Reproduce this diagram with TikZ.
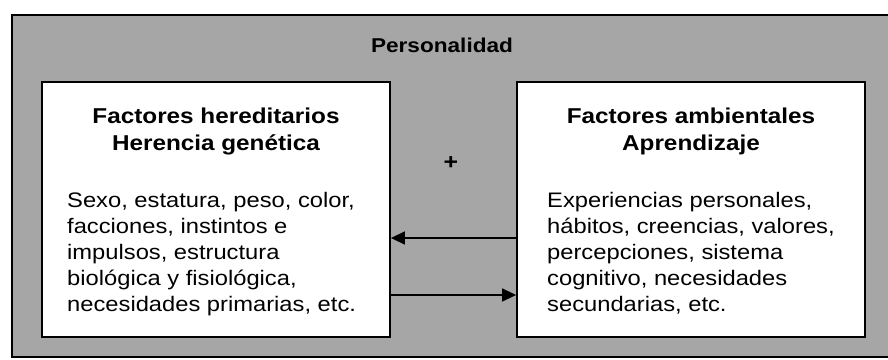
\documentclass[tikz,border=0pt]{standalone}
\usepackage{fontspec}
\setmainfont[FakeStretch=1.13]{Liberation Sans}
\usepackage{xcolor}
\usepackage{tikz}
\usetikzlibrary{positioning, arrows.meta}

\begin{document}
\begin{tikzpicture}[x=1pt, y=-1pt,
    factbox/.style={draw, line width=1.8pt, fill=white, minimum width=348pt, minimum height=255pt, inner sep=0pt},
    boxtitle/.style={font=\fontsize{21.5}{27}\selectfont\bfseries, anchor=base, inner sep=0pt},
    boxline/.style={font=\fontsize{21}{26}\selectfont, anchor=base west, inner sep=0pt},
    flow/.style={line width=1.5pt, -{Triangle[length=14pt, width=13pt]}}]
        \useasboundingbox (0,0) rectangle (888,359);
        \clip (0,0) rectangle (888,359);

        % Shaded frame
        \fill[black!35] (12,15) rectangle (900,357);
        \draw[line width=2pt] (12,15) rectangle (900,357);
        \node[font=\fontsize{20}{24}\selectfont\bfseries, anchor=base, inner sep=0pt] (persona) at (442,52) {Personalidad};
        \node[font=\fontsize{22}{22}\selectfont\bfseries, inner sep=0pt] (mark) at (451,163) {+};

        % Boxes
        \node[factbox] (hered) at (216,209.5) {};
        \node[factbox] (ambient) at (691,209.5) {};

        % Titles
        \node[boxtitle] (hertitle) at (216,123) {Factores hereditarios};
        \node[boxtitle] (hersub) at (216,150) {Herencia genética};
        \node[boxtitle] (ambtitle) at (691,123) {Factores ambientales};
        \node[boxtitle] (ambsub) at (691,150) {Aprendizaje};

        % Body texts
        \foreach \txt [count=\i] in {{Sexo, estatura, peso, color,}, {facciones, instintos e}, {impulsos, estructura}, {biológica y fisiológica,}, {necesidades primarias, etc.}} {
          \node[boxline] (her\i) at (67,{181+26*\i}) {\txt};
        }
        \foreach \txt [count=\i] in {{Experiencias personales,}, {hábitos, creencias, valores,}, {percepciones, sistema}, {cognitivo, necesidades}, {secundarias, etc.}} {
          \node[boxline] (amb\i) at (547,{181+26*\i}) {\txt};
        }

        % Arrows
        \coordinate (upper) at (450,238);
        \coordinate (lower) at (450,295);
        \draw[flow] (upper -| ambient.west) -- (upper -| hered.east);
        \draw[flow] (lower -| hered.east) -- (lower -| ambient.west);
      \end{tikzpicture}
\end{document}
